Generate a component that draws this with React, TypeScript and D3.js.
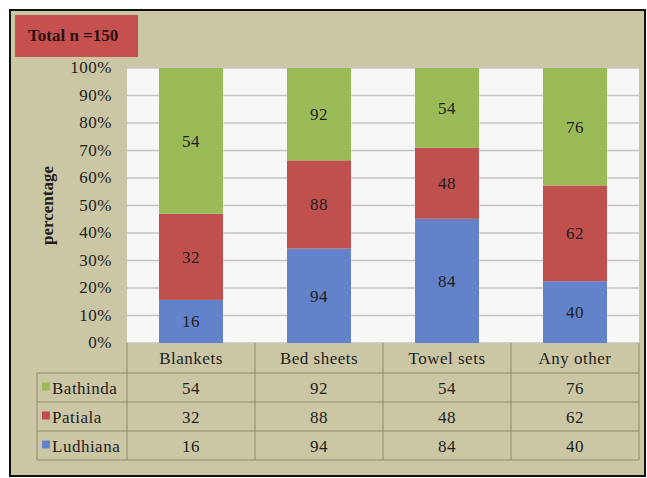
import React from 'react';
import * as d3 from 'd3';

const categories = ['Blankets', 'Bed sheets', 'Towel sets', 'Any other'];
const seriesNames = ['Ludhiana', 'Patiala', 'Bathinda'];
const ludhiana = [16, 94, 84, 40];
const patiala = [32, 88, 48, 62];
const bathinda = [54, 92, 54, 76];
const yTicks = [0, 0.1, 0.2, 0.3, 0.4, 0.5, 0.6, 0.7, 0.8, 0.9, 1];
const tableOrder = ['Bathinda', 'Patiala', 'Ludhiana'];

const colors: Record<string, string> = {
  Ludhiana: '#6283c9',
  Patiala: '#c0504d',
  Bathinda: '#9bbb59',
};

const values: Record<string, number[]> = {
  Ludhiana: ludhiana,
  Patiala: patiala,
  Bathinda: bathinda,
};

const FONT = "'Liberation Serif', 'Times New Roman', serif";
const BG = '#cbc6a4';
const LINE = '#8e8a74';
const INK = '#1e1e1e';

export default function App() {
  const width = 647;
  const height = 478;
  const plot = { left: 127, right: 639, top: 68, bottom: 343 };

  const x = d3
    .scaleBand<string>()
    .domain(categories)
    .range([plot.left, plot.right])
    .paddingInner(0)
    .paddingOuter(0);
  const y = d3.scaleLinear().domain([0, 1]).range([plot.bottom, plot.top]);

  // rows for the stack: one object per category
  const rows = categories.map((c, i) => {
    const r: Record<string, number | string> = { cat: c };
    seriesNames.forEach(s => (r[s] = values[s][i]));
    return r;
  });
  const stack = d3
    .stack<Record<string, number | string>>()
    .keys(seriesNames)
    .value((d, k) => d[k] as number)
    .offset(d3.stackOffsetExpand);
  const layers = stack(rows);

  const barW = x.bandwidth() * 0.5;
  const rowTop = 373;
  const rowH = 29;
  const tableLeft = 37;
  const fs = 17;
  const ls = 0.5;

  return (
    <svg
      width={width}
      height={height}
      style={{ position: 'absolute', left: 0, top: 0, fontFamily: FONT }}
    >
      <rect x={0} y={0} width={width} height={height} fill="#ffffff" />
      <rect x={10} y={10} width={635} height={466} fill={BG} stroke="#111" strokeWidth={2} />

      {/* title box */}
      <rect x={15} y={15} width={123} height={42} fill="#c6504d" />
      <text x={28} y={41} fontSize={17} fontWeight="bold" fill="#2a1010">
        Total n =150
      </text>

      {/* plot area */}
      <rect
        x={plot.left}
        y={plot.top}
        width={plot.right - plot.left}
        height={plot.bottom - plot.top}
        fill="#f7f7f7"
      />
      {yTicks.map(t => (
        <g key={t}>
          <line
            x1={plot.left}
            x2={plot.right}
            y1={y(t)}
            y2={y(t)}
            stroke="#c4c4c4"
            strokeWidth={1.5}
          />
          <text
            x={112}
            y={y(t) + 5}
            fontSize={fs}
            letterSpacing={ls}
            textAnchor="end"
            fill={INK}
          >
            {Math.round(t * 100)}%
          </text>
        </g>
      ))}

      {/* bars */}
      {layers.map(layer => (
        <g key={layer.key} fill={colors[layer.key]}>
          {layer.map((d, i) => {
            const cx = (x(categories[i]) as number) + x.bandwidth() / 2;
            return (
              <g key={i}>
                <rect x={cx - barW / 2} y={y(d[1])} width={barW} height={y(d[0]) - y(d[1])} />
                <text
                  x={cx}
                  y={(y(d[0]) + y(d[1])) / 2 + 6}
                  fontSize={fs}
                  letterSpacing={ls}
                  textAnchor="middle"
                  fill={INK}
                >
                  {values[layer.key][i]}
                </text>
              </g>
            );
          })}
        </g>
      ))}

      <text
        transform={`translate(53,${(plot.top + plot.bottom) / 2}) rotate(-90)`}
        fontSize={17}
        fontWeight="bold"
        textAnchor="middle"
        fill={INK}
      >
        percentage
      </text>

      {/* data table */}
      <g stroke={LINE} strokeWidth={1}>
        {categories.map(c => (
          <line
            key={c}
            x1={x(c) as number}
            x2={x(c) as number}
            y1={plot.bottom}
            y2={rowTop + rowH * 3}
          />
        ))}
        <line x1={plot.right} x2={plot.right} y1={plot.bottom} y2={rowTop + rowH * 3} />
        <line x1={tableLeft} x2={tableLeft} y1={rowTop} y2={rowTop + rowH * 3} />
        {[0, 1, 2, 3].map(r => (
          <line
            key={r}
            x1={tableLeft}
            x2={plot.right}
            y1={rowTop + rowH * r}
            y2={rowTop + rowH * r}
          />
        ))}
      </g>
      {categories.map(c => (
        <text
          key={c}
          x={(x(c) as number) + x.bandwidth() / 2}
          y={364}
          fontSize={fs}
          letterSpacing={ls}
          textAnchor="middle"
          fill={INK}
        >
          {c}
        </text>
      ))}
      {tableOrder.map((s, r) => {
        const cy = rowTop + rowH * r + rowH / 2;
        return (
          <g key={s}>
            <rect x={42} y={cy - 5} width={8} height={8} fill={colors[s]} />
            <text x={52} y={cy + 6} fontSize={fs} letterSpacing={ls} fill={INK}>
              {s}
            </text>
            {categories.map((c, i) => (
              <text
                key={c}
                x={(x(c) as number) + x.bandwidth() / 2}
                y={cy + 6}
                fontSize={fs}
                letterSpacing={ls}
                textAnchor="middle"
                fill={INK}
              >
                {values[s][i]}
              </text>
            ))}
          </g>
        );
      })}
    </svg>
  );
}
